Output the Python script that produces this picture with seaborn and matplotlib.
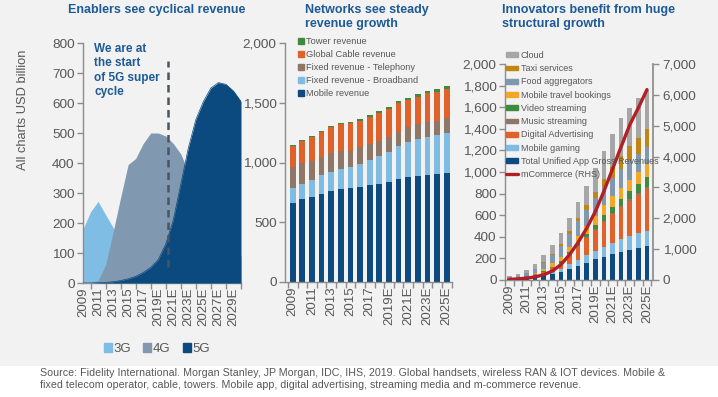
import numpy as np
import pandas as pd
import matplotlib
matplotlib.use("Agg")
import matplotlib.pyplot as plt
import seaborn as sns
from matplotlib.patches import Patch, Rectangle
from matplotlib.lines import Line2D
from matplotlib.ticker import FuncFormatter

# ---------------- data ----------------
# Panel 1: enablers (USD bn), 2009-2030E
enab_years = list(range(2009, 2031))
rev_3g = [180, 237, 272, 228, 185, 150, 120, 95, 70, 50, 35, 25, 15, 10, 5, 3, 2, 1, 0, 0, 0, 0]
rev_4g = [0, 2, 8, 60, 170, 285, 395, 415, 465, 500, 500, 490, 465, 430, 370, 300, 240, 190, 150, 120, 100, 90]
rev_5g = [0, 0, 1, 2, 4, 8, 14, 22, 35, 52, 78, 130, 210, 330, 450, 545, 605, 650, 668, 662, 640, 605]
enab_tick_labels = ["2009", "2011", "2013", "2015", "2017", "2019E", "2021E",
                    "2023E", "2025E", "2027E", "2029E"]

# Panel 2: networks, 2009-2025E
net_labels = ["2009", "2010", "2011", "2012", "2013", "2014", "2015", "2016", "2017",
              "2018", "2019E", "2020E", "2021E", "2022E", "2023E", "2024E", "2025E"]
mobile_rev = [664, 692, 714, 737, 762, 776, 784, 798, 809, 820, 840, 865, 881, 890, 898, 904, 915]
broadband_rev = [120, 128, 140, 159, 161, 170, 176, 190, 212, 235, 251, 273, 288, 307, 318, 326, 335]
telephony_rev = [176, 173, 161, 153, 154, 150, 139, 139, 134, 128, 125, 120, 126, 123, 121, 120, 120]
cable_rev = [178, 187, 201, 209, 218, 224, 229, 223, 229, 229, 232, 238, 228, 231, 242, 243, 245]
tower_rev = [7, 8, 8, 9, 9, 10, 10, 11, 14, 15, 16, 17, 18, 19, 20, 21, 24]

# Panel 3: innovators, 2009-2025E
app_rev = [10, 12, 20, 30, 42, 55, 72, 100, 130, 160, 190, 215, 240, 262, 278, 298, 315]
gaming = [2, 3, 5, 8, 12, 22, 30, 45, 55, 70, 80, 92, 105, 115, 128, 134, 139]
digital_adv = [2, 3, 6, 10, 20, 35, 52, 85, 125, 155, 190, 232, 265, 295, 325, 355, 386]
music = [1, 1, 2, 3, 4, 5, 6, 7, 8, 9, 10, 11, 12, 14, 15, 16, 18]
video = [0, 1, 2, 3, 5, 8, 12, 18, 24, 32, 42, 50, 58, 66, 75, 85, 95]
travel = [2, 3, 6, 10, 18, 30, 45, 55, 65, 75, 85, 92, 98, 103, 108, 113, 118]
food = [8, 12, 22, 38, 60, 75, 95, 115, 135, 150, 160, 165, 170, 172, 180, 168, 164]
taxi = [0, 1, 2, 3, 10, 14, 20, 27, 33, 44, 60, 80, 100, 118, 135, 145, 160]
cloud = [12, 16, 28, 40, 60, 80, 100, 125, 150, 175, 223, 253, 307, 355, 352, 369, 364]
mcommerce = [20, 35, 60, 100, 170, 290, 500, 820, 1220, 1680, 2220, 2880, 3600, 4320, 5030, 5580, 6170]

# ---------------- style ----------------
sns.set_theme(style="white")
plt.rcParams["font.family"] = ["Liberation Sans", "DejaVu Sans"]
BG = "#f2f2f2"
TXT = "#575757"
SPN = "#8c8c8c"
TITLE = "#1d5a96"

C3G, C4G, C5G = "#7fbde5", "#8099b0", "#0b4a7e"
C_MOB, C_BB, C_TEL, C_CAB, C_TOW = "#0d4a80", "#80bbe4", "#8f7768", "#e0622a", "#3f8a3c"
C_TRAVEL, C_FOOD, C_TAXI, C_CLOUD, C_MCOM = "#f2a727", "#7f98b0", "#bf8515", "#a6a6a6", "#b21f24"

fig = plt.figure(figsize=(7.18, 3.97), dpi=100, facecolor=BG)
fig.patches.append(Rectangle((0, 0), 1, 31 / 397, transform=fig.transFigure,
                             facecolor="white", edgecolor="none", zorder=0))


def rect(l, t, r, b):
    return [l / 718, 1 - b / 397, (r - l) / 718, (b - t) / 397]


def style_axis(ax):
    ax.set_facecolor(BG)
    for s in ["top", "right"]:
        ax.spines[s].set_visible(False)
    for s in ["left", "bottom"]:
        ax.spines[s].set_color(SPN)
        ax.spines[s].set_linewidth(1.0)
    ax.tick_params(axis="y", which="both", direction="out", length=4, width=1,
                   color=SPN, labelcolor=TXT, labelsize=9.7, pad=2, left=True)
    ax.tick_params(axis="x", which="major", length=0, labelcolor=TXT, labelsize=9.5,
                   rotation=90, pad=3, bottom=True)
    ax.tick_params(axis="x", which="minor", direction="out", length=4, width=1,
                   color=SPN, bottom=True)
    ax.grid(False)


comma = FuncFormatter(lambda v, p: f"{int(v):,}")

# ---------------- panel 1 ----------------
ax1 = fig.add_axes(rect(83, 43, 241, 283))
style_axis(ax1)
ax1.fill_between(enab_years, rev_3g, color=C3G, lw=0, zorder=2)
ax1.fill_between(enab_years, rev_4g, color=C4G, lw=0, zorder=3)
ax1.fill_between(enab_years, rev_5g, color=C5G, lw=0, zorder=4)
sns.lineplot(x=enab_years, y=rev_5g, color=C5G, lw=0.5, ax=ax1, zorder=4)
ax1.set_xlim(2009, 2030)
ax1.set_ylim(0, 800)
ax1.set_yticks(range(0, 801, 100))
ax1.set_xticks(list(range(2009, 2030, 2)))
ax1.set_xticklabels(enab_tick_labels)
ax1.set_xticks(list(range(2009, 2031)), minor=True)
ax1.vlines(2020.35, 55, 740, colors="#4a5560", linestyles=(0, (3, 2)), lw=1.8, zorder=6)
ax1.text(2010.5, 800, "We are at\nthe start\nof 5G super\ncycle", color=TITLE,
         fontsize=8.5, fontweight="bold", va="top", ha="left", linespacing=1.25, zorder=7)
ax1.set_ylabel("All charts USD billion", color=TXT, fontsize=9.3)
ax1.yaxis.set_label_coords(-0.34, 0.72)
fig.legend([Patch(color=C3G), Patch(color=C4G), Patch(color=C5G)], ["3G", "4G", "5G"],
           loc="center", bbox_to_anchor=(157 / 718, 1 - 349 / 397), ncol=3, frameon=False,
           fontsize=9.5, handlelength=0.6, handleheight=0.6, handletextpad=0.15,
           columnspacing=0.9, labelcolor=TXT)
fig.text(68 / 718, 1 - 10 / 397, "Enablers see cyclical revenue", color=TITLE,
         fontsize=9, fontweight="bold", va="center", ha="left")

# ---------------- panel 2 ----------------
ax2 = fig.add_axes(rect(285, 43, 452, 282))
net = pd.DataFrame({"year": net_labels,
                    "Mobile revenue": mobile_rev,
                    "Fixed revenue - Broadband": broadband_rev,
                    "Fixed revenue - Telephony": telephony_rev,
                    "Global Cable revenue": cable_rev,
                    "Tower revenue": tower_rev})
net_series = ["Mobile revenue", "Fixed revenue - Broadband", "Fixed revenue - Telephony",
              "Global Cable revenue", "Tower revenue"]
net_colors = [C_MOB, C_BB, C_TEL, C_CAB, C_TOW]
net_cum = net[net_series].cumsum(axis=1)
for s, c in reversed(list(zip(net_series, net_colors))):
    sns.barplot(x=net["year"], y=net_cum[s], order=net_labels, color=c, saturation=1,
                width=0.6, linewidth=0, errorbar=None, ax=ax2)
style_axis(ax2)
n = len(net_labels)
ax2.set_xlim(-0.8, n - 0.45)
ax2.set_ylim(0, 2000)
ax2.set_yticks(range(0, 2001, 500))
ax2.yaxis.set_major_formatter(comma)
ax2.set_xticks(range(0, n, 2))
ax2.set_xticklabels(net_labels[::2])
ax2.set_xticks(np.arange(-0.5, n, 1), minor=True)
ax2.set_xlabel("")
ax2.set_ylabel("")
h2 = [Patch(color=c) for c in net_colors][::-1]
ax2.legend(h2, net_series[::-1], loc="upper left", bbox_to_anchor=(298 / 718, 1 - 37.5 / 397),
           bbox_transform=fig.transFigure, frameon=False, fontsize=6.7,
           handlelength=0.6, handleheight=0.6, handletextpad=0.25, labelspacing=0.42,
           borderaxespad=0, borderpad=0, labelcolor=TXT)
fig.text(305 / 718, 1 - 17 / 397, "Networks see steady\nrevenue growth", color=TITLE,
         fontsize=9, fontweight="bold", va="center", ha="left", linespacing=1.3)

# ---------------- panel 3 ----------------
ax3 = fig.add_axes(rect(505, 64, 653, 280))
inn_series = ["Total Unified App Gross Revenues", "Mobile gaming", "Digital Advertising",
              "Music streaming", "Video streaming", "Mobile travel bookings",
              "Food aggregators", "Taxi services", "Cloud"]
inn_values = [app_rev, gaming, digital_adv, music, video, travel, food, taxi, cloud]
inn_colors = [C_MOB, C_BB, C_CAB, C_TEL, C_TOW, C_TRAVEL, C_FOOD, C_TAXI, C_CLOUD]
inn = pd.DataFrame(dict(zip(inn_series, inn_values)))
inn["year"] = net_labels
inn_cum = inn[inn_series].cumsum(axis=1)
for s, c in reversed(list(zip(inn_series, inn_colors))):
    sns.barplot(x=inn["year"], y=inn_cum[s], order=net_labels, color=c, saturation=1,
                width=0.54, linewidth=0, errorbar=None, ax=ax3)
style_axis(ax3)
ax3.set_xlim(-0.4, n - 0.3)
ax3.set_ylim(0, 2000)
ax3.set_yticks(range(0, 2001, 200))
ax3.yaxis.set_major_formatter(comma)
ax3.set_xticks(range(0, n, 2))
ax3.set_xticklabels(net_labels[::2])
ax3.set_xticks(np.arange(-0.5, n, 1), minor=True)
ax3.set_xlabel("")
ax3.set_ylabel("")

ax3r = ax3.twinx()
sns.lineplot(x=np.arange(n), y=mcommerce, color=C_MCOM, lw=2.4, ax=ax3r, zorder=5)
ax3r.set_ylim(0, 7000)
ax3r.set_yticks(range(0, 7001, 1000))
ax3r.yaxis.set_major_formatter(comma)
for s in ["top", "left", "bottom"]:
    ax3r.spines[s].set_visible(False)
ax3r.spines["right"].set_color(SPN)
ax3r.tick_params(axis="y", direction="out", length=4, width=1, color=SPN,
                 labelcolor=TXT, labelsize=9.7, pad=3, right=True)
ax3r.set_ylabel("")
ax3r.grid(False)

h3 = [Patch(color=c) for c in inn_colors][::-1] + [Line2D([0], [0], color=C_MCOM, lw=2.4)]
l3 = inn_series[::-1] + ["mCommerce (RHS)"]
ax3r.legend(h3, l3, loc="upper left", bbox_to_anchor=(506 / 718, 1 - 51 / 397),
            bbox_transform=fig.transFigure, frameon=False, fontsize=6.5,
            handlelength=1.35, handleheight=0.45, handletextpad=0.3, labelspacing=0.47,
            borderaxespad=0, borderpad=0, labelcolor=TXT)
fig.text(502 / 718, 1 - 17 / 397, "Innovators benefit from huge\nstructural growth", color=TITLE,
         fontsize=9, fontweight="bold", va="center", ha="left", linespacing=1.3)

# ---------------- source ----------------
fig.text(40 / 718, 1 - 368 / 397,
         "Source: Fidelity International. Morgan Stanley, JP Morgan, IDC, IHS, 2019. Global handsets, "
         "wireless RAN & IOT devices. Mobile &\nfixed telecom operator, cable, towers. Mobile app, "
         "digital advertising, streaming media and m-commerce revenue.",
         fontsize=7.7, color=TXT, va="top", ha="left", linespacing=1.2)

fig.savefig("out.png", dpi=100, facecolor=BG)
